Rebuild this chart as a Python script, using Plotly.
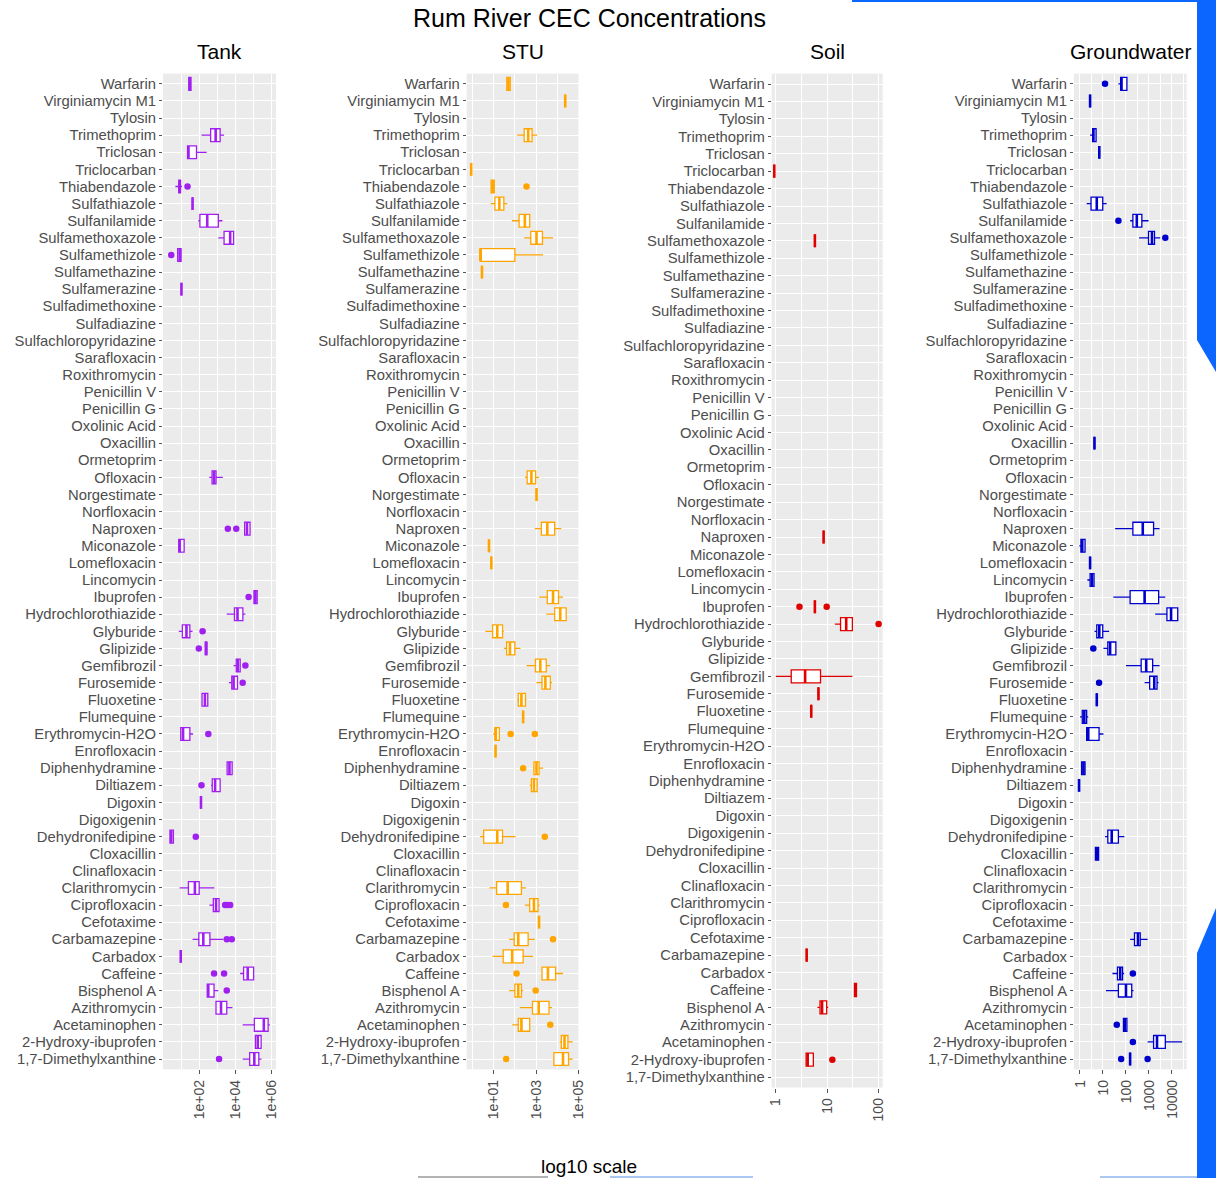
import plotly.graph_objects as go

# ---------------- data (log10 concentrations) ----------------
COMPOUNDS = [  # top to bottom as displayed
    "Warfarin", "Virginiamycin M1", "Tylosin", "Trimethoprim", "Triclosan", "Triclocarban",
    "Thiabendazole", "Sulfathiazole", "Sulfanilamide", "Sulfamethoxazole", "Sulfamethizole",
    "Sulfamethazine", "Sulfamerazine", "Sulfadimethoxine", "Sulfadiazine", "Sulfachloropyridazine",
    "Sarafloxacin", "Roxithromycin", "Penicillin V", "Penicillin G", "Oxolinic Acid", "Oxacillin",
    "Ormetoprim", "Ofloxacin", "Norgestimate", "Norfloxacin", "Naproxen", "Miconazole",
    "Lomefloxacin", "Lincomycin", "Ibuprofen", "Hydrochlorothiazide", "Glyburide", "Glipizide",
    "Gemfibrozil", "Furosemide", "Fluoxetine", "Flumequine", "Erythromycin-H2O", "Enrofloxacin",
    "Diphenhydramine", "Diltiazem", "Digoxin", "Digoxigenin", "Dehydronifedipine", "Cloxacillin",
    "Clinafloxacin", "Clarithromycin", "Ciprofloxacin", "Cefotaxime", "Carbamazepine", "Carbadox",
    "Caffeine", "Bisphenol A", "Azithromycin", "Acetaminophen", "2-Hydroxy-ibuprofen",
    "1,7-Dimethylxanthine",
]

# (lower whisker, q1, median, q3, upper whisker) in log10 units; single numbers = one value
TANK_BOX = {
    "Warfarin": (1.36, 1.38, 1.44, 1.50, 1.52),
    "Trimethoprim": (2.09, 2.60, 2.88, 3.13, 3.35),
    "Triclosan": (1.31, 1.31, 1.36, 1.81, 2.38),
    "Thiabendazole": (0.63, 0.82, 0.87, 0.92, 1.00),
    "Sulfathiazole": 1.59,
    "Sulfanilamide": (1.91, 2.00, 2.41, 3.03, 3.26),
    "Sulfamethoxazole": (3.03, 3.35, 3.69, 3.88, 3.88),
    "Sulfamethizole": (0.74, 0.76, 0.87, 0.95, 0.97),
    "Sulfamerazine": 0.97,
    "Ofloxacin": (2.53, 2.68, 2.79, 2.90, 3.28),
    "Naproxen": (4.48, 4.50, 4.63, 4.80, 4.84),
    "Miconazole": (0.82, 0.82, 0.87, 1.12, 1.12),
    "Ibuprofen": (5.00, 5.02, 5.10, 5.20, 5.23),
    "Hydrochlorothiazide": (3.50, 3.93, 4.10, 4.40, 4.54),
    "Glyburide": (0.82, 1.02, 1.25, 1.44, 1.59),
    "Glipizide": (2.28, 2.30, 2.35, 2.39, 2.41),
    "Gemfibrozil": (3.88, 4.03, 4.12, 4.25, 4.25),
    "Furosemide": (3.62, 3.78, 3.88, 4.10, 4.10),
    "Fluoxetine": (2.09, 2.12, 2.28, 2.44, 2.47),
    "Erythromycin-H2O": (0.93, 0.93, 1.06, 1.44, 1.62),
    "Diphenhydramine": (3.50, 3.52, 3.65, 3.80, 3.82),
    "Diltiazem": (2.62, 2.69, 2.85, 3.13, 3.13),
    "Digoxin": 2.06,
    "Dehydronifedipine": (0.31, 0.33, 0.40, 0.52, 0.54),
    "Clarithromycin": (0.87, 1.36, 1.72, 1.96, 2.81),
    "Ciprofloxacin": (2.53, 2.75, 2.90, 3.07, 3.07),
    "Carbamazepine": (1.59, 1.94, 2.19, 2.56, 3.31),
    "Carbadox": 0.93,
    "Caffeine": (4.25, 4.44, 4.67, 5.00, 5.00),
    "Bisphenol A": (2.41, 2.41, 2.47, 2.79, 3.03),
    "Azithromycin": (2.90, 2.90, 3.18, 3.50, 3.82),
    "Acetaminophen": (4.39, 5.04, 5.57, 5.81, 5.91),
    "2-Hydroxy-ibuprofen": (5.10, 5.10, 5.23, 5.42, 5.42),
    "1,7-Dimethylxanthine": (4.39, 4.78, 5.04, 5.29, 5.44),
}
TANK_OUT = {
    "Thiabendazole": [1.31], "Sulfamethizole": [0.40], "Naproxen": [3.56, 4.03],
    "Ibuprofen": [4.72], "Glyburide": [2.15], "Glipizide": [1.94], "Gemfibrozil": [4.54],
    "Furosemide": [4.39], "Erythromycin-H2O": [2.47], "Diltiazem": [2.09],
    "Dehydronifedipine": [1.77], "Ciprofloxacin": [3.41, 3.54, 3.69],
    "Carbamazepine": [3.50, 3.78], "Caffeine": [2.79, 3.35], "Bisphenol A": [3.50],
    "1,7-Dimethylxanthine": [3.07],
}

STU_BOX = {
    "Warfarin": (1.61, 1.62, 1.70, 1.78, 1.80),
    "Virginiamycin M1": 4.375,
    "Trimethoprim": (2.11, 2.44, 2.63, 2.81, 3.05),
    "Triclocarban": -0.06,
    "Thiabendazole": (0.86, 0.88, 0.95, 1.03, 1.06),
    "Sulfathiazole": (0.86, 1.06, 1.27, 1.48, 1.64),
    "Sulfanilamide": (1.86, 2.20, 2.47, 2.70, 2.72),
    "Sulfamethoxazole": (2.44, 2.75, 3.02, 3.30, 3.80),
    "Sulfamethizole": (0.375, 0.375, 0.375, 2.00, 3.33),
    "Sulfamethazine": 0.45,
    "Ofloxacin": (2.48, 2.58, 2.78, 2.98, 3.14),
    "Norgestimate": 3.02,
    "Naproxen": (2.94, 3.25, 3.53, 3.875, 4.19),
    "Miconazole": 0.78,
    "Lomefloxacin": 0.89,
    "Ibuprofen": (3.14, 3.53, 3.80, 4.06, 4.27),
    "Hydrochlorothiazide": (3.48, 3.875, 4.14, 4.42, 4.42),
    "Glyburide": (0.61, 0.95, 1.17, 1.42, 1.48),
    "Glipizide": (1.48, 1.61, 1.77, 2.00, 2.27),
    "Gemfibrozil": (2.55, 2.97, 3.20, 3.48, 3.67),
    "Furosemide": (3.02, 3.28, 3.44, 3.67, 3.75),
    "Fluoxetine": (2.11, 2.16, 2.31, 2.50, 2.55),
    "Flumequine": 2.39,
    "Erythromycin-H2O": (0.98, 1.06, 1.10, 1.27, 1.27),
    "Enrofloxacin": 1.09,
    "Diphenhydramine": (2.86, 2.90, 3.02, 3.14, 3.33),
    "Diltiazem": (2.70, 2.78, 2.90, 3.05, 3.10),
    "Dehydronifedipine": (0.36, 0.53, 1.17, 1.42, 2.03),
    "Clarithromycin": (0.80, 1.14, 1.66, 2.31, 2.52),
    "Ciprofloxacin": (2.47, 2.70, 2.90, 3.09, 3.17),
    "Cefotaxime": 3.14,
    "Carbamazepine": (1.73, 1.97, 2.16, 2.625, 2.94),
    "Carbadox": (0.95, 1.45, 1.875, 2.39, 2.86),
    "Caffeine": (3.28, 3.28, 3.56, 3.92, 4.27),
    "Bisphenol A": (1.73, 2.00, 2.16, 2.31, 2.39),
    "Azithromycin": (2.23, 2.83, 3.125, 3.61, 3.75),
    "Acetaminophen": (1.875, 2.16, 2.31, 2.70, 2.72),
    "2-Hydroxy-ibuprofen": (4.11, 4.19, 4.34, 4.50, 4.73),
    "1,7-Dimethylxanthine": (3.80, 3.84, 4.27, 4.53, 4.73),
}
STU_OUT = {
    "Thiabendazole": [2.55], "Erythromycin-H2O": [1.80, 2.94], "Diphenhydramine": [2.39],
    "Dehydronifedipine": [3.41], "Ciprofloxacin": [1.58], "Carbamazepine": [3.80],
    "Caffeine": [2.08], "Bisphenol A": [2.98], "Acetaminophen": [3.67],
    "1,7-Dimethylxanthine": [1.59],
}

SOIL_BOX = {
    "Triclocarban": -0.03,
    "Sulfamethoxazole": 0.76,
    "Naproxen": 0.93,
    "Ibuprofen": 0.76,
    "Hydrochlorothiazide": (1.15, 1.26, 1.37, 1.49, 1.49),
    "Gemfibrozil": (0.00, 0.30, 0.57, 0.87, 1.49),
    "Furosemide": 0.83,
    "Fluoxetine": 0.69,
    "Carbamazepine": 0.60,
    "Caffeine": (1.53, 1.53, 1.55, 1.57, 1.57),
    "Bisphenol A": (0.81, 0.86, 0.90, 0.99, 1.02),
    "2-Hydroxy-ibuprofen": (0.59, 0.59, 0.62, 0.73, 0.73),
}
SOIL_OUT = {
    "Ibuprofen": [0.46, 0.99], "Hydrochlorothiazide": [2.00], "2-Hydroxy-ibuprofen": [1.10],
}

GW_BOX = {
    "Warfarin": (1.67, 1.77, 1.80, 2.04, 2.04),
    "Virginiamycin M1": 0.44,
    "Trimethoprim": (0.44, 0.55, 0.58, 0.70, 0.70),
    "Triclosan": 0.84,
    "Sulfathiazole": (0.29, 0.48, 0.73, 0.99, 1.16),
    "Sulfanilamide": (2.18, 2.30, 2.47, 2.69, 2.98),
    "Sulfamethoxazole": (2.57, 2.98, 3.13, 3.24, 3.49),
    "Oxacillin": 0.63,
    "Naproxen": (1.53, 2.30, 2.73, 3.20, 3.46),
    "Miconazole": (-0.03, 0.04, 0.10, 0.22, 0.22),
    "Lomefloxacin": 0.44,
    "Lincomycin": (0.32, 0.44, 0.52, 0.61, 0.61),
    "Ibuprofen": (1.45, 2.18, 2.81, 3.42, 3.71),
    "Hydrochlorothiazide": (3.27, 3.78, 3.96, 4.25, 4.25),
    "Glyburide": (0.63, 0.73, 0.84, 0.99, 1.27),
    "Glipizide": (1.02, 1.21, 1.31, 1.56, 1.56),
    "Gemfibrozil": (2.00, 2.66, 2.88, 3.16, 3.46),
    "Furosemide": (2.81, 3.03, 3.23, 3.35, 3.42),
    "Fluoxetine": 0.73,
    "Flumequine": (0.00, 0.10, 0.19, 0.29, 0.36),
    "Erythromycin-H2O": (0.29, 0.29, 0.36, 0.83, 1.02),
    "Diphenhydramine": (0.07, 0.07, 0.15, 0.22, 0.22),
    "Diltiazem": -0.04,
    "Dehydronifedipine": (1.09, 1.21, 1.38, 1.67, 1.93),
    "Cloxacillin": (0.65, 0.67, 0.74, 0.81, 0.83),
    "Carbamazepine": (2.18, 2.37, 2.52, 2.62, 2.94),
    "Caffeine": (1.41, 1.63, 1.75, 1.85, 1.92),
    "Bisphenol A": (1.13, 1.67, 2.00, 2.25, 2.33),
    "Acetaminophen": (1.89, 1.89, 1.95, 2.04, 2.04),
    "2-Hydroxy-ibuprofen": (2.94, 3.20, 3.35, 3.71, 4.44),
    "1,7-Dimethylxanthine": 2.18,
}
GW_OUT = {
    "Warfarin": [1.09], "Sulfanilamide": [1.67], "Sulfamethoxazole": [3.71],
    "Glipizide": [0.58], "Furosemide": [0.83], "Caffeine": [2.30], "Acetaminophen": [1.60],
    "2-Hydroxy-ibuprofen": [2.30], "1,7-Dimethylxanthine": [1.79, 2.94],
}

PANEL_TITLES = ["Tank", "STU", "Soil", "Groundwater"]
PANEL_COLORS = ["#A020F0", "#FFA500", "#E00000", "#0000CD"]
TANK_TICKS = ["1e+02", "1e+04", "1e+06"]
STU_TICKS = ["1e+01", "1e+03", "1e+05"]
SOIL_TICKS = ["1", "10", "100"]
GW_TICKS = ["1", "10", "100", "1000", "10000"]

# ---------------- layout helpers ----------------
W, H = 1216, 1178


def fx(px):
    return px / W


def fy(py):
    return 1 - py / H


panels = [
    dict(box=TANK_BOX, out=TANK_OUT, ticks=TANK_TICKS, xdom=(163, 276), ybot=1069.3,
         xrange=(-0.06, 6.25), minor=[1, 3, 5]),
    dict(box=STU_BOX, out=STU_OUT, ticks=STU_TICKS, xdom=(466.7, 578.5), ybot=1069.3,
         xrange=(-0.27, 5.0), minor=[0, 2, 4]),
    dict(box=SOIL_BOX, out=SOIL_OUT, ticks=SOIL_TICKS, xdom=(771.7, 882.7), ybot=1087.5,
         xrange=(-0.08, 2.08), minor=[0.5, 1.5]),
    dict(box=GW_BOX, out=GW_OUT, ticks=GW_TICKS, xdom=(1074, 1186.7), ybot=1069.3,
         xrange=(-0.26, 4.64), minor=[0.5, 1.5, 2.5, 3.5, 4.5]),
]

N = len(COMPOUNDS)
pos = {name: N - 1 - i for i, name in enumerate(COMPOUNDS)}
FONT = "Liberation Sans, Arial, sans-serif"
HALF = 0.375

fig = go.Figure()
layout_axes = {}

for k, (p, title, color) in enumerate(zip(panels, PANEL_TITLES, PANEL_COLORS), start=1):
    sfx = "" if k == 1 else str(k)
    xref, yref = "x" + sfx, "y" + sfx

    names = list(p["box"].keys())
    stats = []
    for n in names:
        v = p["box"][n]
        stats.append(tuple(v) if isinstance(v, (tuple, list)) else (v,) * 5)
    ys = [pos[n] for n in names]

    fig.add_trace(go.Box(
        orientation="h", y=ys,
        lowerfence=[10 ** s[0] for s in stats],
        q1=[10 ** s[1] for s in stats],
        median=[10 ** s[2] for s in stats],
        q3=[10 ** s[3] for s in stats],
        upperfence=[10 ** s[4] for s in stats],
        width=2 * HALF, whiskerwidth=0, fillcolor="white",
        line=dict(color=color, width=1.3), boxpoints=False,
        xaxis=xref, yaxis=yref, showlegend=False, hoverinfo="skip",
    ))

    # thicker median segments (ggplot style)
    mx, my = [], []
    for s, yv in zip(stats, ys):
        mx += [10 ** s[2], 10 ** s[2], None]
        my += [yv - HALF, yv + HALF, None]
    fig.add_trace(go.Scatter(x=mx, y=my, mode="lines", line=dict(color=color, width=2.6),
                             xaxis=xref, yaxis=yref, showlegend=False, hoverinfo="skip"))

    ox, oy = [], []
    for n, vals in p["out"].items():
        for v in vals:
            ox.append(10 ** v)
            oy.append(pos[n])
    fig.add_trace(go.Scatter(x=ox, y=oy, mode="markers",
                             marker=dict(color=color, size=6.5, line=dict(width=0)),
                             xaxis=xref, yaxis=yref, showlegend=False, hoverinfo="skip"))

    tickvals = [float(t) for t in p["ticks"]]
    layout_axes["xaxis" + sfx] = dict(
        type="log", domain=[fx(p["xdom"][0]), fx(p["xdom"][1])], range=list(p["xrange"]),
        anchor=yref, tickmode="array", tickvals=tickvals, ticktext=p["ticks"],
        tickangle=-90, ticks="outside", ticklen=4, tickcolor="#555555", tickwidth=1,
        tickfont=dict(family=FONT, size=14, color="#4D4D4D"), automargin=False,
        showgrid=True, gridcolor="white", gridwidth=1.2, zeroline=False, showline=False,
        minor=dict(tickmode="array", tickvals=[10 ** m for m in p["minor"]], showgrid=True,
                   gridcolor="white", gridwidth=0.6, ticks=""),
    )
    layout_axes["yaxis" + sfx] = dict(
        domain=[fy(p["ybot"]), fy(73.6)], range=[-0.6, N - 1 + 0.6], anchor=xref,
        tickmode="array", tickvals=list(range(N)), ticktext=COMPOUNDS[::-1],
        ticks="outside", ticklen=3, tickcolor="#555555", tickwidth=1,
        tickfont=dict(family=FONT, size=14.8, color="#4D4D4D"), automargin=False,
        showgrid=True, gridcolor="white", gridwidth=1.2, zeroline=False, showline=False,
    )

annotations = [
    dict(text="Rum River CEC Concentrations", x=fx(589), y=fy(18), xref="paper", yref="paper",
         showarrow=False, font=dict(family=FONT, size=25, color="black"),
         xanchor="center", yanchor="middle"),
    dict(text="log10 scale", x=fx(589), y=fy(1166), xref="paper", yref="paper",
         showarrow=False, font=dict(family=FONT, size=19, color="black"),
         xanchor="center", yanchor="middle"),
]
for p, title in zip(panels, PANEL_TITLES):
    annotations.append(dict(text=title, x=fx((p["xdom"][0] + p["xdom"][1]) / 2), y=fy(52),
                            xref="paper", yref="paper", showarrow=False,
                            font=dict(family=FONT, size=21, color="black"),
                            xanchor="center", yanchor="middle"))


def poly(points):
    return "M " + " L ".join(f"{fx(x):.5f},{fy(y):.5f}" for x, y in points) + " Z"


BLUE = "#0A66FF"
shapes = [
    dict(type="path", xref="paper", yref="paper", fillcolor=BLUE, line=dict(width=0),
         path=poly([(1197, 0), (1216, 0), (1216, 372), (1197, 340)])),
    dict(type="path", xref="paper", yref="paper", fillcolor=BLUE, line=dict(width=0),
         path=poly([(1216, 908), (1216, 1178), (1197, 1178), (1197, 953)])),
    dict(type="rect", xref="paper", yref="paper", fillcolor=BLUE, line=dict(width=0),
         x0=fx(852), x1=fx(1197), y0=fy(2), y1=fy(0)),
    dict(type="line", xref="paper", yref="paper", line=dict(color="#9A9A9A", width=1.5),
         x0=fx(418), x1=fx(548), y0=fy(1177), y1=fy(1177)),
    dict(type="line", xref="paper", yref="paper", line=dict(color="#8FB4F0", width=1.5),
         x0=fx(610), x1=fx(753), y0=fy(1177), y1=fy(1177)),
    dict(type="line", xref="paper", yref="paper", line=dict(color="#8FB4F0", width=1.5),
         x0=fx(1100), x1=fx(1197), y0=fy(1177), y1=fy(1177)),
]

fig.update_layout(
    width=W, height=H, autosize=False,
    margin=dict(l=0, r=0, t=0, b=0, pad=0, autoexpand=False),
    paper_bgcolor="white", plot_bgcolor="#EBEBEB",
    annotations=annotations, shapes=shapes,
    showlegend=False,
    **layout_axes,
)

# remove the browser's default 8px page margin so the figure fills the window exactly
fig.write_html(
    "out.html",
    config={"displayModeBar": False, "responsive": False},
    post_script="document.body.style.margin='0px';document.body.style.overflow='hidden';",
)
